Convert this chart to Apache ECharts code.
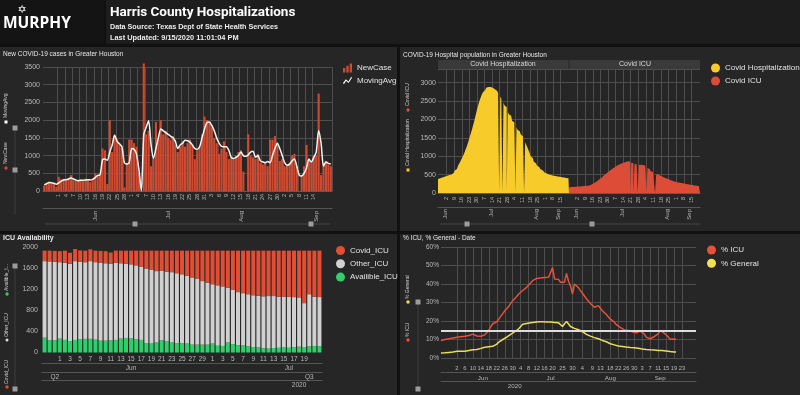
<!DOCTYPE html>
<html><head><meta charset="utf-8">
<script src="https://cdn.jsdelivr.net/npm/echarts@6/dist/echarts.min.js"></script>
<style>html,body{margin:0;padding:0;background:#111;}#c{width:800px;height:395px;}</style>
</head><body><div id="c"></div>
<script>
// ================= DATA =================
// Panel 1: New COVID-19 cases (daily, 2020-05-26 .. 2020-09-21)
const casesStart = '2020-05-26', casesEnd = '2020-09-21';
const casesTickStart = '2020-06-01', casesTickEnd = '2020-09-14';
const newCase = [
  150,230,260,210,200,120,
  400,330,340,300,350,450,300,280,320,330,
  280,350,330,250,300,500,430,450,1200,1150,
  200,2000,1100,1550,1450,1300,1200,100,800,1450,
  1450,1350,1250,500,0,3600,1600,1700,700,900,
  1950,1450,2000,1600,1700,1500,1450,1550,1300,1100,
  1250,1400,1250,1350,1450,1300,900,1150,1250,1600,2100,
  2000,1950,1800,1500,1350,1050,1200,1400,1100,900,
  950,900,1000,1100,1150,550,0,1600,1000,950,
  900,1050,800,750,800,700,1450,1450,1550,1300,850,
  900,700,750,800,1000,1050,700,0,450,700,
  1300,850,800,1000,1000,2750,450,800,850,750,700
];
const movingAvg = [
  170,210,240,230,220,190,
  230,280,310,320,340,370,340,310,290,300,
  300,310,320,310,330,380,440,460,880,900,
  870,1100,1300,1580,1400,1330,1250,800,760,800,
  1200,1180,1050,600,0,1600,1800,1980,1300,920,
  1200,1500,1750,1700,1650,1600,1550,1500,1400,1200,
  1300,1350,1430,1420,1380,1300,1200,1180,1250,1500,1750,
  1930,1950,1850,1700,1500,1350,1260,1250,1250,1150,
  950,920,950,1000,1100,1000,980,1020,1100,1120,
  950,1000,850,820,800,830,800,1000,1200,1350,1200,
  1000,800,730,750,850,900,700,450,420,500,
  650,900,820,950,1100,1700,1350,700,820,780,760
];
const casesMonthLabels = {'2020-06-16':'Jun','2020-07-16':'Jul','2020-08-15':'Aug','2020-09-15':'Sep'};

// Panel 2: Hospital population (daily, 2020-05-25 .. 2020-09-23)
const hospStart = '2020-05-25', hospEnd = '2020-09-23';
const hospTickStart = '2020-06-02', hospTickEnd = '2020-09-15';
const covidHospitalization = [
  380,390,400,410,420,430,440,450,460,470,
  480,490,505,520,545,575,610,650,690,740,
  795,850,910,970,1035,1100,1180,1260,1345,1440,
  1540,1640,1740,1850,1960,2080,2200,2320,2420,2520,
  2600,2680,2740,2790,2830,2860,2880,2890,2880,2870,
  2860,2840,2820,2800,2780,2750,2720,0,2620,2560,
  0,2450,2380,2330,0,2200,2140,2100,2050,1960,
  1920,1870,0,1790,1720,1680,1640,1590,1540,1480,
  0,1380,1310,1240,1170,1100,1000,950,900,850,
  810,770,740,710,680,650,620,590,575,560,
  545,530,515,500,490,480,470,465,460,455,
  450,445,440,435,430,425,420,415,410,405,400,400
];
const covidICUPopulation = [
  150,155,160,160,165,165,170,170,175,175,
  180,180,185,185,190,190,195,200,200,210,
  220,235,250,270,290,310,330,355,380,405,
  430,455,480,505,530,555,580,605,625,645,
  665,685,705,725,745,760,775,790,805,815,
  825,835,845,855,865,860,850,0,820,810,
  0,790,780,770,0,760,770,785,780,760,
  740,720,0,680,650,620,590,570,550,535,
  0,510,500,490,470,455,440,425,415,405,
  390,380,365,355,345,335,325,315,305,300,
  295,290,280,275,270,260,255,250,245,240,
  235,230,225,220,215,210,205,200,198,195,192,190
];
const hospMonthLabels = {'2020-06-01':'Jun','2020-07-13':'Jul','2020-08-24':'Aug','2020-09-13':'Sep'};

// Panel 3: ICU availability (daily, 2020-05-29 .. 2020-07-22)
const icuStart = '2020-05-29', icuEnd = '2020-07-22';
const icuTickStart = '2020-06-01', icuTickEnd = '2020-07-19';
const covidICU = [
  200,205,205,210,230,210,230,215,220,225,
  220,225,230,215,230,240,250,260,280,310,
  340,360,390,380,400,410,430,450,480,510,
  540,580,610,640,660,680,710,740,790,810,
  830,850,860,870,865,865,880,875,880,885,
  890,1000,830,880,885
];
const otherICU = [
  1457,1503,1498,1456,1470,1477,1500,1479,1460,1480,
  1475,1484,1474,1460,1470,1435,1413,1410,1410,1390,
  1420,1410,1360,1328,1320,1340,1330,1315,1290,1280,
  1250,1210,1180,1130,1150,1135,1040,1040,1010,995,
  990,985,980,990,1000,990,970,970,970,955,
  940,835,995,935,935
];
const availibleICU = [
  283,232,232,264,240,213,240,251,260,260,
  245,226,226,230,240,265,277,270,250,240,
  180,170,190,232,220,190,180,175,170,150,
  150,150,150,170,130,125,190,160,140,135,
  120,105,100,80,75,85,90,95,90,100,
  110,105,115,125,120
];
const icuMonthLabels = {'2020-06-15':'Jun','2020-07-16':'Jul'};
const icuQuarterLabels = {'2020-05-31':'Q2','2020-07-20':'Q3'};
const icuYearLabels = {'2020-07-18':'2020'};

// Panel 4: % ICU, % General (daily values 2020-05-25 .. 2020-09-20, axis to 2020-09-30)
const pctStart = '2020-05-25', pctEnd = '2020-09-30';
const pctICU = [
  9.5,9.7,10.0,10.2,10.4,10.3,10.8,11.0,11.2,11.3,
  11.5,11.4,11.8,12.0,12.2,12.4,12.9,12.2,11.9,11.7,
  11.8,12.0,12.5,13.1,15.0,17.0,18.5,19.4,19.6,21.0,
  22.5,24.0,25.5,26.6,28.0,29.5,31.0,32.0,33.2,34.6,
  35.5,36.5,37.5,38.2,39.5,40.5,41.8,42.5,43.0,43.5,
  43.3,43.8,43.5,44.0,43.6,44.5,48.9,42.7,43.0,42.5,
  40.9,41.5,41.0,45.7,41.5,39.0,34.6,40.0,39.5,38.0,
  36.4,35.0,33.5,32.0,31.0,29.5,28.5,27.4,27.8,28.3,
  27.5,25.5,24.5,23.5,22.5,21.0,20.0,19.4,18.0,17.0,
  16.5,16.0,15.2,15.5,14.9,14.5,14.2,14.0,13.6,13.8,
  14.5,15.3,13.0,11.3,11.0,10.4,10.8,11.5,12.2,13.0,
  14.9,14.2,13.5,12.7,11.5,10.2,10.0,10.3,10.2
];
const pctGeneral = [
  2.7,2.7,2.8,2.9,3.0,3.1,3.2,3.4,3.6,4.5,
  3.6,3.6,3.7,3.9,4.1,4.3,4.5,4.4,4.6,4.9,
  5.2,5.6,5.8,6.0,6.1,6.3,6.3,6.8,7.5,8.6,
  9.3,10.0,10.7,11.3,12.0,12.8,13.6,14.2,14.8,15.8,
  17.0,18.2,18.5,18.6,18.8,19.0,19.2,19.3,19.5,19.6,
  19.7,19.6,19.5,19.4,19.5,19.4,19.3,19.2,19.1,19.0,
  19.0,17.0,18.5,19.7,19.2,17.0,16.5,16.0,15.6,15.3,
  14.8,14.2,13.6,12.8,12.2,11.8,11.4,11.0,10.6,10.4,
  10.0,9.5,9.8,8.8,8.2,7.7,7.4,7.1,6.8,6.5,
  6.3,6.2,6.0,5.9,5.8,5.7,5.6,5.6,5.5,5.3,
  5.1,4.9,4.8,4.6,4.5,4.4,4.3,4.3,4.2,4.1,
  4.1,4.0,3.9,3.8,3.6,3.5,3.4,3.3,3.2
];
const pctThreshold = 15;
const pctTickDates = ['2020-06-02','2020-06-06','2020-06-10','2020-06-14','2020-06-18','2020-06-22','2020-06-26','2020-06-30',
  '2020-07-04','2020-07-08','2020-07-12','2020-07-16','2020-07-20','2020-07-25','2020-07-30',
  '2020-08-04','2020-08-09','2020-08-13','2020-08-18','2020-08-22','2020-08-26','2020-08-30',
  '2020-09-03','2020-09-07','2020-09-11','2020-09-15','2020-09-19','2020-09-23'];
const pctMonthLabels = {'2020-06-15':'Jun','2020-07-19':'Jul','2020-08-18':'Aug','2020-09-12':'Sep'};
const pctYearLabels = {'2020-07-01':'2020'};

// ================= HELPERS =================
function dateRange(a, b) {
  const out = []; let t = Date.parse(a + 'T00:00:00Z'); const e = Date.parse(b + 'T00:00:00Z');
  while (t <= e) { out.push(new Date(t).toISOString().slice(0, 10)); t += 86400000; }
  return out;
}
const casesCats = dateRange(casesStart, casesEnd);
const hospCats = dateRange(hospStart, hospEnd);
const icuCats = dateRange(icuStart, icuEnd);
const pctCats = dateRange(pctStart, pctEnd);

function everyN(cats, s, e, n) {
  const si = cats.indexOf(s), ei = cats.indexOf(e);
  return i => i >= si && i <= ei && (i - si) % n === 0;
}
const casesShow = everyN(casesCats, casesTickStart, casesTickEnd, 3);
const hospShow = everyN(hospCats, hospTickStart, hospTickEnd, 7);
const icuShow = everyN(icuCats, icuTickStart, icuTickEnd, 2);
const pctSet = new Set(pctTickDates);
const pctShow = i => pctSet.has(pctCats[i]);
const dayNum = v => String(parseInt(v.slice(8), 10));

const FF = "'Liberation Sans', Arial, sans-serif";
const AXC = '#b8b8b8';
const GRIDC = '#4e4e4e';

function mainX(grid, cats, showFn, o) {
  return {
    type: 'category', gridIndex: grid, data: cats, boundaryGap: o.bg, position: 'bottom',
    axisLine: { show: o.line !== false, lineStyle: { color: '#5c5c5c' } },
    axisTick: { show: false },
    axisLabel: { interval: i => showFn(i), formatter: dayNum, color: AXC, fontSize: o.fs || 6,
      rotate: o.rot || 0, margin: o.margin == null ? 3 : o.margin, fontFamily: FF },
    splitLine: { show: !!o.split, interval: i => showFn(i), lineStyle: { color: GRIDC, width: 1 } }
  };
}
function levelX(grid, cats, map, offset, o) {
  return {
    type: 'category', gridIndex: grid, data: cats, boundaryGap: o.bg, position: 'bottom', offset: offset,
    axisLine: { show: !!o.line, lineStyle: { color: '#555' } },
    axisTick: { show: false }, splitLine: { show: false },
    axisLabel: { interval: (i, v) => Object.prototype.hasOwnProperty.call(map, v), formatter: v => map[v] || '',
      color: AXC, fontSize: o.fs || 6.5, rotate: o.rot || 0, margin: o.margin == null ? 2 : o.margin, fontFamily: FF }
  };
}
function valY(grid, min, max, interval, o) {
  return {
    type: 'value', gridIndex: grid, min: min, max: max, interval: interval,
    axisLine: { show: false }, axisTick: { show: false },
    axisLabel: { show: o.labels !== false, color: AXC, fontSize: o.fs || 7, margin: o.margin == null ? 4 : o.margin, fontFamily: FF,
      formatter: v => (v % interval === 0 ? (o.fmt ? o.fmt(v) : String(v)) : '') },
    splitLine: { show: o.split !== false, lineStyle: { color: GRIDC, width: 1 } }
  };
}

// ================= DECORATION =================
const PANEL = '#262626';
const g = [];
function rect(x, y, w, h, fill, z) { g.push({ type: 'rect', silent: true, z: z == null ? -10 : z, shape: { x, y, width: w, height: h }, style: { fill } }); }
function txt(x, y, text, o) {
  g.push({ type: 'text', silent: true, z: 5, x, y, rotation: o.rot || 0,
    style: { text, fill: o.fill || '#e8e8e8', fontSize: o.fs || 7, fontWeight: o.fw || 'normal',
      fontFamily: o.ff || FF, textAlign: o.align || 'left', textVerticalAlign: o.va || 'middle' } });
}
function dot(x, y, r, fill) { g.push({ type: 'circle', silent: true, z: 5, shape: { cx: x, cy: y, r }, style: { fill } }); }
function hline(x1, x2, y, c) { g.push({ type: 'line', silent: true, z: 1, shape: { x1, y1: y, x2, y2: y }, style: { stroke: c || '#4a4a4a', lineWidth: 1 } }); }
function vline(x, y1, y2, c) { g.push({ type: 'line', silent: true, z: 1, shape: { x1: x, y1, x2: x, y2 }, style: { stroke: c || '#4a4a4a', lineWidth: 1 } }); }
function handle(x, y) { rect(x - 2.5, y - 2.5, 5, 5, '#9c9c9c', 3); }

// header
rect(0, 0, 104, 44, '#141414');
rect(106, 0, 694, 44, '#1d1d1d');
// panels
rect(0, 47, 397, 184, PANEL);
rect(400, 47, 400, 184, PANEL);
rect(0, 234, 397, 161, PANEL);
rect(400, 234, 400, 161, PANEL);

// logo + header text
txt(22, 10, '\u2721', { fs: 11, fill: '#ffffff', align: 'center', ff: "'DejaVu Sans', sans-serif" });
txt(3, 24, 'MURPHY', { fs: 15.5, fw: 'bold', fill: '#ffffff', ff: "'Open Sans', 'Liberation Sans', sans-serif" });
txt(110, 13, 'Harris County Hospitalizations', { fs: 13.5, fw: 'bold', fill: '#ffffff', ff: "Roboto, 'Liberation Sans', sans-serif" });
txt(110, 27.5, 'Data Source: Texas Dept of State Health Services', { fs: 7.2, fw: 'bold', fill: '#ececec' });
txt(110, 37.5, 'Last Updated: 9/15/2020 11:01:04 PM', { fs: 7.4, fw: 'bold', fill: '#ececec' });

// panel titles
txt(3, 54, 'New COVID-19 cases in Greater Houston', { fs: 6.5, fill: '#e6e6e6' });
txt(403, 55, 'COVID-19 Hospital population in Greater Houston', { fs: 6.5, fill: '#e6e6e6' });
txt(3, 238.5, 'ICU Availability', { fs: 7, fw: 'bold', fill: '#e6e6e6' });
txt(403, 238.5, '% ICU, % General - Date', { fs: 6.5, fill: '#e6e6e6' });

// panel 1 side decorations
txt(6, 118, 'MovingAvg', { fs: 5, rot: Math.PI / 2, fill: '#cfcfcf' });
rect(4.5, 120.5, 3, 3, '#ffffff', 5);
txt(6, 164, 'NewCase', { fs: 5, rot: Math.PI / 2, fill: '#cfcfcf' });
dot(6, 168, 1.7, '#d24a2f');
vline(15, 128, 215, '#3c3c3c');
handle(15, 128); handle(15, 170);
hline(45, 330, 224, '#444'); handle(135, 224); handle(311, 224);

// panel 2 facet headers and side decorations
rect(438, 60, 130.5, 9, '#3a3a3a', -5);
rect(569.5, 60, 130.5, 9, '#3a3a3a', -5);
txt(503, 64.5, 'Covid Hospitalization', { fs: 7, align: 'center', fill: '#d8d8d8' });
txt(635, 64.5, 'Covid ICU', { fs: 7, align: 'center', fill: '#d8d8d8' });
txt(408, 106, 'Covid ICU', { fs: 5, rot: Math.PI / 2, fill: '#cfcfcf' });
dot(408, 110, 1.7, '#dc4c36');
txt(408, 166, 'Covid Hospitalization', { fs: 5, rot: Math.PI / 2, fill: '#cfcfcf' });
rect(406.5, 168.5, 3, 3, '#f7cb2a', 5);
hline(440, 700, 224, '#444'); handle(467, 224); handle(592, 224);

// panel 3 side decorations
txt(7, 291, 'Availible_I...', { fs: 5, rot: Math.PI / 2, fill: '#cfcfcf' });
dot(7, 294, 1.7, '#2fcf6b');
txt(7, 337, 'Other_ICU', { fs: 5, rot: Math.PI / 2, fill: '#cfcfcf' });
dot(7, 340, 1.5, '#e0e0e0');
txt(7, 384, 'Covid_ICU', { fs: 5, rot: Math.PI / 2, fill: '#cfcfcf' });
dot(7, 387, 1.7, '#e04e35');
vline(15, 266, 389, '#3c3c3c');
handle(15, 266); handle(15, 389);

// panel 4 side decorations
txt(408, 299, '% General', { fs: 5, rot: Math.PI / 2, fill: '#cfcfcf' });
dot(408, 302, 1.7, '#f3e04f');
txt(408, 337, '% ICU', { fs: 5, rot: Math.PI / 2, fill: '#cfcfcf' });
dot(408, 340, 1.7, '#e8503a');
vline(418, 302, 389, '#3c3c3c');
handle(418, 302); handle(418, 389);

// ================= LEGEND ICONS =================
const barIcon = 'path://M0,10L2.6,10L2.6,5L0,5Z M3.7,10L6.3,10L6.3,2.5L3.7,2.5Z M7.4,10L10,10L10,0L7.4,0Z';
const lineIcon = 'path://M0,8.2L3.2,4.2L6,6.6L9.2,1.4L10,2.4L6.3,8.4L3.4,6L1,9.6Z';
const legTxt = { color: '#e2e2e2', fontSize: 8, fontFamily: FF };

// ================= OPTION =================
const option = {
  backgroundColor: '#111111',
  animation: false,
  graphic: g,
  grid: [
    { left: 43, top: 67, width: 289, height: 124 },      // 0 cases
    { left: 438, top: 69, width: 131, height: 124 },     // 1 hosp facet
    { left: 569, top: 69, width: 131, height: 124 },     // 2 icu facet
    { left: 42, top: 247.5, width: 280, height: 105 },   // 3 icu availability
    { left: 441, top: 247, width: 255, height: 111 }     // 4 pct
  ],
  xAxis: [
    mainX(0, casesCats, casesShow, { bg: true, rot: 90, split: true, fs: 5.5, margin: 3 }),
    levelX(0, casesCats, casesMonthLabels, 17, { bg: true, rot: 90, line: true, fs: 6, margin: 3 }),
    mainX(1, hospCats, hospShow, { bg: false, rot: 90, split: true, fs: 5.5, margin: 4 }),
    levelX(1, hospCats, hospMonthLabels, 14, { bg: false, rot: 90, line: true, fs: 6, margin: 2 }),
    mainX(2, hospCats, hospShow, { bg: false, rot: 90, split: true, fs: 5.5, margin: 4 }),
    levelX(2, hospCats, hospMonthLabels, 14, { bg: false, rot: 90, line: true, fs: 6, margin: 2 }),
    mainX(3, icuCats, icuShow, { bg: true, line: false, fs: 6.5, margin: 3 }),
    levelX(3, icuCats, icuMonthLabels, 10.5, { bg: true, line: true, fs: 6.5, margin: 2 }),
    levelX(3, icuCats, icuQuarterLabels, 19.5, { bg: true, line: true, fs: 6.5, margin: 1.5 }),
    levelX(3, icuCats, icuYearLabels, 27.5, { bg: true, line: true, fs: 6.5, margin: 2 }),
    mainX(4, pctCats, pctShow, { bg: false, line: false, split: true, fs: 5.8, margin: 7 }),
    levelX(4, pctCats, pctMonthLabels, 14, { bg: false, line: true, fs: 6.2, margin: 3 }),
    levelX(4, pctCats, pctYearLabels, 23, { bg: false, line: true, fs: 6.2, margin: 2 })
  ],
  yAxis: [
    valY(0, 0, 3500, 500, { margin: 3 }),
    valY(1, 0, 3370, 500, { margin: 2 }),
    valY(2, 0, 3370, 500, { labels: false }),
    valY(3, 0, 2000, 400, { split: false, margin: 4 }),
    valY(4, 0, 60, 10, { fmt: v => v + '%', margin: 2, fs: 6.5 })
  ],
  legend: [
    { data: [{ name: 'NewCase', icon: barIcon }, { name: 'MovingAvg', icon: lineIcon }],
      orient: 'vertical', left: 343, top: 63.5, padding: 0, itemWidth: 9, itemHeight: 9, itemGap: 4, textStyle: legTxt, selectedMode: false },
    { data: ['Covid Hospitalization', 'Covid ICU'], icon: 'circle',
      orient: 'vertical', left: 711, top: 63.5, padding: 0, itemWidth: 9, itemHeight: 9, itemGap: 4, textStyle: legTxt, selectedMode: false },
    { data: ['Covid_ICU', 'Other_ICU', 'Availible_ICU'], icon: 'circle',
      orient: 'vertical', left: 336, top: 246, padding: 0, itemWidth: 9, itemHeight: 9, itemGap: 4.3, textStyle: legTxt, selectedMode: false },
    { data: ['% ICU', '% General'], icon: 'circle',
      orient: 'vertical', left: 707, top: 245.5, padding: 0, itemWidth: 9, itemHeight: 9, itemGap: 4.3, textStyle: legTxt, selectedMode: false }
  ],
  series: [
    { name: 'NewCase', type: 'bar', xAxisIndex: 0, yAxisIndex: 0, data: newCase, clip: false,
      barCategoryGap: '12%', itemStyle: { color: '#cf4a30' } },
    { name: 'MovingAvg', type: 'line', xAxisIndex: 0, yAxisIndex: 0, data: movingAvg, symbol: 'none',
      smooth: 0.25, lineStyle: { color: '#f4f4f4', width: 1.5 }, itemStyle: { color: '#f4f4f4' }, z: 4 },

    { name: 'Covid Hospitalization', type: 'line', xAxisIndex: 2, yAxisIndex: 1, data: covidHospitalization,
      step: 'middle', symbol: 'none', lineStyle: { width: 0 }, areaStyle: { color: '#f7cb2a', opacity: 1 },
      itemStyle: { color: '#f7cb2a' } },
    { name: 'Covid ICU', type: 'line', xAxisIndex: 4, yAxisIndex: 2, data: covidICUPopulation,
      step: 'middle', symbol: 'none', lineStyle: { width: 0 }, areaStyle: { color: '#dc4c36', opacity: 1 },
      itemStyle: { color: '#dc4c36' } },

    { name: 'Availible_ICU', type: 'bar', stack: 'icu', xAxisIndex: 6, yAxisIndex: 3, data: availibleICU,
      barCategoryGap: '22%', itemStyle: { color: '#2fcf6b' } },
    { name: 'Other_ICU', type: 'bar', stack: 'icu', xAxisIndex: 6, yAxisIndex: 3, data: otherICU,
      itemStyle: { color: '#d0d0d0' } },
    { name: 'Covid_ICU', type: 'bar', stack: 'icu', xAxisIndex: 6, yAxisIndex: 3, data: covidICU,
      itemStyle: { color: '#e04e35' } },

    { name: '% ICU', type: 'line', xAxisIndex: 10, yAxisIndex: 4, data: pctICU, symbol: 'none',
      lineStyle: { color: '#e8503a', width: 1.5 }, itemStyle: { color: '#e8503a' }, z: 4,
      markLine: { silent: true, symbol: 'none', label: { show: false },
        lineStyle: { color: '#dcdcdc', width: 2, type: 'solid' }, data: [{ yAxis: pctThreshold }] } },
    { name: '% General', type: 'line', xAxisIndex: 10, yAxisIndex: 4, data: pctGeneral, symbol: 'none',
      lineStyle: { color: '#ecdc5c', width: 1.5 }, itemStyle: { color: '#f3e04f' }, z: 4 }
  ]
};

const chart = echarts.init(document.getElementById('c'), null, { renderer: 'canvas' });
chart.setOption(option);
</script>
</body></html>
